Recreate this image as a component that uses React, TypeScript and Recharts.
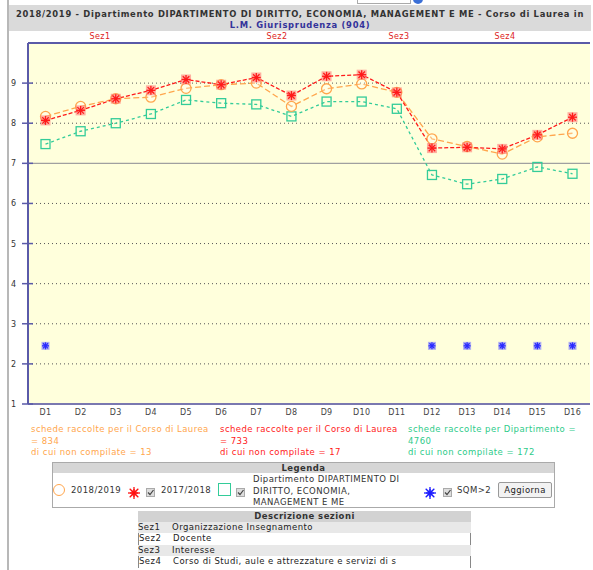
import React from "react"
import { CartesianGrid, Line, LineChart, ReferenceLine, XAxis, YAxis } from "recharts"

const FONT = '"DejaVu Sans", Verdana, sans-serif'

const categories = ["D1", "D2", "D3", "D4", "D5", "D6", "D7", "D8", "D9", "D10", "D11", "D12", "D13", "D14", "D15", "D16"]
// 2018/2019 (orange circles)
const year1819 = [8.17, 8.42, 8.61, 8.65, 8.87, 8.96, 9.0, 8.42, 8.86, 8.98, 8.77, 7.61, 7.42, 7.23, 7.66, 7.75]
// 2017/2018 (red stars)
const year1718 = [8.07, 8.32, 8.61, 8.82, 9.09, 8.96, 9.14, 8.69, 9.17, 9.21, 8.77, 7.38, 7.4, 7.36, 7.71, 8.15]
// Dipartimento (green squares)
const dipartimento = [7.48, 7.8, 8.0, 8.23, 8.58, 8.5, 8.47, 8.17, 8.54, 8.54, 8.36, 6.71, 6.48, 6.61, 6.91, 6.74]
// SQM>2 markers
const sqm = [2.45, null, null, null, null, null, null, null, null, null, null, 2.45, 2.45, 2.45, 2.45, 2.45]

const yTicks = [1, 2, 3, 4, 5, 6, 7, 8, 9]
const dottedLines = [2, 3, 4, 5, 6, 8, 9]

const sezioni = [
  { code: "Sez1", label: "Organizzazione Insegnamento", x: 100 },
  { code: "Sez2", label: "Docente", x: 277 },
  { code: "Sez3", label: "Interesse", x: 399 },
  { code: "Sez4", label: "Corso di Studi, aule e attrezzature e servizi di s", x: 505 },
]

const rows = categories.map((name, i) => ({
  name,
  curr: year1819[i],
  prev: year1718[i],
  dept: dipartimento[i],
  sqm: sqm[i],
}))

const ORANGE = "#ffa64d"
const RED = "#ff1a1a"
const GREEN = "#33cc99"
const BLUE = "#2a2aff"
const AXIS = "#5a5aa8"

function Star({ cx, cy, r, color, bg }: { cx: number; cy: number; r: number; color: string; bg?: string }) {
  const d = r * 0.72
  return (
    <g>
      {bg && <rect x={cx - r - 0.5} y={cy - r - 0.5} width={2 * r + 1} height={2 * r + 1} fill={bg} fillOpacity={0.55} />}
      <line x1={cx - r} x2={cx + r} y1={cy} y2={cy} stroke={color} strokeWidth={1.3} />
      <line x1={cx} x2={cx} y1={cy - r} y2={cy + r} stroke={color} strokeWidth={1.3} />
      <line x1={cx - d} x2={cx + d} y1={cy - d} y2={cy + d} stroke={color} strokeWidth={1.3} />
      <line x1={cx - d} x2={cx + d} y1={cy + d} y2={cy - d} stroke={color} strokeWidth={1.3} />
    </g>
  )
}

const circleDot = (p: any) => {
  if (p.cx == null || p.cy == null || p.value == null) return <g key={p.key} />
  return <circle key={p.key} cx={p.cx} cy={p.cy} r={5} fill="#fff" fillOpacity={0.25} stroke={ORANGE} strokeWidth={1.3} />
}

const redDot = (p: any) => {
  if (p.cx == null || p.cy == null || p.value == null) return <g key={p.key} />
  return (
    <g key={p.key}>
      <Star cx={p.cx} cy={p.cy} r={4.5} color={RED} bg="#ff7070" />
    </g>
  )
}

const squareDot = (p: any) => {
  if (p.cx == null || p.cy == null || p.value == null) return <g key={p.key} />
  return <rect key={p.key} x={p.cx - 4.5} y={p.cy - 4.5} width={9} height={9} fill="none" stroke={GREEN} strokeWidth={1.3} />
}

const blueDot = (p: any) => {
  if (p.cx == null || p.cy == null || p.value == null) return <g key={p.key} />
  return (
    <g key={p.key}>
      <Star cx={p.cx} cy={p.cy} r={3.5} color={BLUE} bg="#7070ff" />
    </g>
  )
}

const YTick = (props: any) => {
  const { x, y, payload } = props
  return (
    <g>
      <line x1={x - 6} x2={x + 5} y1={y} y2={y} stroke={AXIS} strokeWidth={1.5} />
      <text x={x - 17} y={y} dy={3} fontSize={8} fill="#333" fontFamily={FONT}>
        {payload.value}
      </text>
    </g>
  )
}

const txt: React.CSSProperties = { fontFamily: FONT, fontSize: 8.5, whiteSpace: "nowrap", letterSpacing: 0.45 }

function Check() {
  return (
    <svg width={9} height={9} style={{ display: "inline-block", verticalAlign: "middle" }}>
      <rect x={0.5} y={0.5} width={8} height={8} fill="#ddd" stroke="#aaa" />
      <path d="M2 4.5 L4 6.5 L7.5 2" fill="none" stroke="#444" strokeWidth={1.2} />
    </svg>
  )
}

function StarIcon({ color }: { color: string }) {
  return (
    <svg width={14} height={14} style={{ display: "inline-block", verticalAlign: "middle" }}>
      <Star cx={7} cy={7} r={6} color={color} />
      <Star cx={7} cy={7} r={4} color={color} />
    </svg>
  )
}

export default function App() {
  return (
    <div style={{ position: "absolute", left: 0, top: 0, width: 593, height: 570, overflow: "hidden", background: "#fff" }}>
      {/* partial controls at the very top */}
      <div style={{ position: "absolute", left: 357, top: -10, width: 52, height: 12, border: "1px solid #aaa", background: "#fff" }} />
      <div style={{ position: "absolute", left: 413, top: -6, width: 10, height: 10, borderRadius: 6, background: "#3b6fd6" }} />
      <div style={{ position: "absolute", left: 7, top: 0, width: 2, height: 570, background: "#b8b8b8" }} />

      {/* title */}
      <div
        style={{
          position: "absolute",
          left: 9,
          top: 5,
          width: 582,
          height: 26,
          background: "#dadada",
          textAlign: "center",
          fontFamily: FONT,
          fontWeight: "bold",
          fontSize: 8.4,
          letterSpacing: 0.7,
          lineHeight: "11px",
          paddingTop: 4,
          boxSizing: "border-box",
          color: "#333",
          whiteSpace: "nowrap",
        }}
      >
        <div>2018/2019 - Dipartimento DIPARTIMENTO DI DIRITTO, ECONOMIA, MANAGEMENT E ME - Corso di Laurea in</div>
        <div style={{ color: "#33339a" }}>L.M. Giurisprudenza (904)</div>
      </div>

      {sezioni.map((s) => (
        <div
          key={s.code}
          style={{ position: "absolute", left: s.x - 20, width: 40, top: 32, textAlign: "center", fontFamily: FONT, fontSize: 8, letterSpacing: 0.4, color: "#dd2222" }}
        >
          {s.code}
        </div>
      ))}

      <LineChart
        width={593}
        height={420}
        data={rows}
        margin={{ top: 43, right: 3, left: 0, bottom: 0 }}
        style={{ position: "absolute", left: 0, top: 0 }}
      >
        <CartesianGrid fill="#ffffdc" horizontal={false} vertical={false} stroke="none" />
        {dottedLines.map((v) => (
          <ReferenceLine key={v} y={v} stroke="#555" strokeDasharray="1 3" strokeWidth={1} />
        ))}
        <ReferenceLine y={7} stroke="#a0a0a0" strokeWidth={1.2} />
        <ReferenceLine y={10} stroke={AXIS} strokeWidth={2} />
        <XAxis
          dataKey="name"
          scale="point"
          padding={{ left: 17.5, right: 17.5 }}
          height={16}
          tickSize={0}
          tickMargin={5}
          interval={0}
          axisLine={{ stroke: "#7a78b0", strokeWidth: 2 }}
          tick={{ fontSize: 8, fill: "#444", fontFamily: FONT, letterSpacing: 0.3 }}
        />
        <YAxis
          domain={[1, 10]}
          ticks={yTicks}
          width={28}
          tickSize={0}
          tickMargin={0}
          allowDataOverflow
          axisLine={{ stroke: AXIS, strokeWidth: 2 }}
          tick={<YTick />}
        />
        <Line
          dataKey="dept"
          stroke={GREEN}
          strokeWidth={1.3}
          strokeDasharray="3 3"
          dot={squareDot}
          isAnimationActive={false}
        />
        <Line
          dataKey="curr"
          stroke={ORANGE}
          strokeWidth={1.3}
          strokeDasharray="6 3"
          dot={circleDot}
          isAnimationActive={false}
        />
        <Line
          dataKey="prev"
          stroke={RED}
          strokeWidth={1.3}
          strokeDasharray="4 2"
          dot={redDot}
          isAnimationActive={false}
        />
        <Line dataKey="sqm" stroke="none" dot={blueDot} isAnimationActive={false} />
      </LineChart>

      {/* counts */}
      <div style={{ ...txt, position: "absolute", left: 31, top: 424, lineHeight: "11.5px", color: "#ffa64d" }}>
        <div>schede raccolte per il Corso di Laurea</div>
        <div>= 834</div>
        <div>di cui non compilate = 13</div>
      </div>
      <div style={{ ...txt, position: "absolute", left: 220, top: 424, lineHeight: "11.5px", color: "#ff1a1a" }}>
        <div>schede raccolte per il Corso di Laurea</div>
        <div>= 733</div>
        <div>di cui non compilate = 17</div>
      </div>
      <div style={{ ...txt, position: "absolute", left: 408, top: 424, lineHeight: "11.5px", color: "#2ecb8a" }}>
        <div>schede raccolte per Dipartimento =</div>
        <div>4760</div>
        <div>di cui non compilate = 172</div>
      </div>

      {/* legend */}
      <div style={{ position: "absolute", left: 52, top: 462, width: 503, height: 46, border: "1px solid #aaa", boxSizing: "border-box", background: "#fff" }}>
        <div style={{ ...txt, height: 10, lineHeight: "10px", background: "#d6d6d6", textAlign: "center", fontWeight: "bold", color: "#333" }}>
          Legenda
        </div>
      </div>
      <div style={{ position: "absolute", left: 53, top: 484, width: 12, height: 12, border: "1.5px solid #ffa64d", borderRadius: 8, boxSizing: "border-box" }} />
      <div style={{ ...txt, position: "absolute", left: 71, top: 485, color: "#333" }}>2018/2019</div>
      <div style={{ position: "absolute", left: 127, top: 483 }}>
        <StarIcon color="#ff1010" />
      </div>
      <div style={{ position: "absolute", left: 146, top: 482 }}>
        <Check />
      </div>
      <div style={{ ...txt, position: "absolute", left: 161, top: 485, color: "#333" }}>2017/2018</div>
      <div style={{ position: "absolute", left: 218, top: 483, width: 13, height: 13, border: "1.5px solid #33cc99", boxSizing: "border-box" }} />
      <div style={{ position: "absolute", left: 236, top: 482 }}>
        <Check />
      </div>
      <div style={{ ...txt, position: "absolute", left: 253, top: 474, lineHeight: "11.5px", color: "#333" }}>
        <div>Dipartimento DIPARTIMENTO DI</div>
        <div>DIRITTO, ECONOMIA,</div>
        <div>MANAGEMENT E ME</div>
      </div>
      <div style={{ position: "absolute", left: 423, top: 483 }}>
        <StarIcon color="#1a1aff" />
      </div>
      <div style={{ position: "absolute", left: 443, top: 482 }}>
        <Check />
      </div>
      <div style={{ ...txt, position: "absolute", left: 457, top: 485, color: "#333" }}>SQM&gt;2</div>
      <div
        style={{
          ...txt,
          position: "absolute",
          left: 498,
          top: 482,
          width: 54,
          height: 16,
          lineHeight: "15px",
          textAlign: "center",
          border: "1px solid #999",
          borderRadius: 2,
          background: "#f2f2f2",
          boxSizing: "border-box",
          color: "#222",
        }}
      >
        Aggiorna
      </div>

      {/* section descriptions */}
      <div style={{ position: "absolute", left: 138, top: 511, width: 333 }}>
        <div style={{ ...txt, height: 11, lineHeight: "11px", background: "#d2d2d2", textAlign: "center", fontWeight: "bold", color: "#333" }}>
          Descrizione sezioni
        </div>
        {sezioni.map((s, i) => (
          <div
            key={s.code}
            style={{
              ...txt,
              height: 11.4,
              lineHeight: "11.4px",
              background: i % 2 === 0 ? "#e8e8e8" : "#fff",
              borderLeft: i % 2 === 1 ? "1px solid #888" : "none",
              borderRight: i % 2 === 1 ? "1px solid #888" : "none",
              boxSizing: "border-box",
              color: "#222",
              display: "flex",
            }}
          >
            <span style={{ width: 34 }}>{s.code}</span>
            <span>{s.label}</span>
          </div>
        ))}
      </div>
    </div>
  )
}
